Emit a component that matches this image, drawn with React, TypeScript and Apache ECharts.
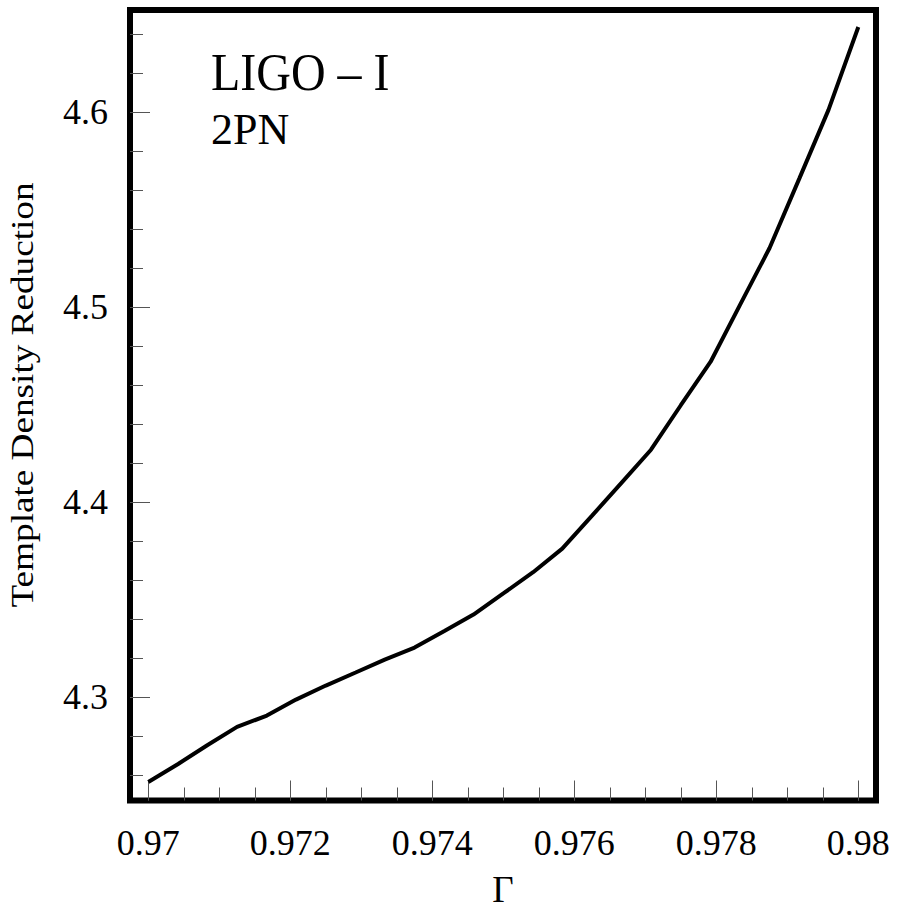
import React, { useEffect, useRef } from "react";
import * as echarts from "echarts";

// Data
const gammaValues = [
  0.97, 0.97042, 0.97083, 0.97125, 0.97167, 0.97208, 0.9725, 0.97292, 0.97333,
  0.97375, 0.97417, 0.97458, 0.975, 0.97542, 0.97583, 0.97625, 0.97667, 0.97708,
  0.9775, 0.97792, 0.97833, 0.97875, 0.97917, 0.97958, 0.98,
];
const densityReduction = [
  4.2566, 4.2658, 4.2754, 4.2848, 4.2906, 4.2988, 4.306, 4.3127, 4.3193, 4.3255,
  4.334, 4.3424, 4.3532, 4.3641, 4.3762, 4.3931, 4.4102, 4.4269, 4.4497, 4.472,
  4.5009, 4.5303, 4.566, 4.6011, 4.6436,
];

const xMajorTicks = [0.97, 0.972, 0.974, 0.976, 0.978, 0.98];
const xMinorTicks = [
  0.97, 0.9705, 0.971, 0.9715, 0.972, 0.9725, 0.973, 0.9735, 0.974, 0.9745,
  0.975, 0.9755, 0.976, 0.9765, 0.977, 0.9775, 0.978, 0.9785, 0.979, 0.9795, 0.98,
];
const yMajorTicks = [4.3, 4.4, 4.5, 4.6];
const yMinorTicks = [
  4.26, 4.28, 4.3, 4.32, 4.34, 4.36, 4.38, 4.4, 4.42, 4.44, 4.46, 4.48, 4.5,
  4.52, 4.54, 4.56, 4.58, 4.6, 4.62, 4.64,
];

const xMin = 0.969742;
const xMax = 0.980249;
const yMin = 4.24708;
const yMax = 4.65231;

const FONT = '"Liberation Serif", "Times New Roman", serif';

export default function App() {
  const ref = useRef<HTMLDivElement>(null);

  useEffect(() => {
    document.body.style.margin = "0";
    if (!ref.current) return;
    const chart = echarts.init(ref.current, undefined, { renderer: "svg" });

    const tickStyle = { color: "#555", width: 1 };

    const option: any = {
      animation: false,
      backgroundColor: "#fff",
      grid: {
        left: 130,
        right: 21,
        top: 10,
        bottom: 112,
        show: true,
        borderColor: "#000",
        borderWidth: 6,
        backgroundColor: "transparent",
      },
      xAxis: [
        {
          type: "value",
          min: xMin,
          max: xMax,
          position: "bottom",
          axisLine: { show: false },
          splitLine: { show: false },
          axisTick: {
            show: true,
            inside: true,
            length: 20,
            lineStyle: tickStyle,
            customValues: xMajorTicks,
          },
          axisLabel: {
            show: true,
            customValues: xMajorTicks,
            margin: 24,
            color: "#000",
            fontFamily: FONT,
            fontSize: 36,
            formatter: (v: number) => String(parseFloat(v.toFixed(4))),
          },
          name: "Γ",
          nameLocation: "middle",
          nameGap: 89,
          nameTextStyle: {
            color: "#000",
            fontFamily: FONT,
            fontSize: 37,
            verticalAlign: "middle",
          },
        },
        {
          type: "value",
          min: xMin,
          max: xMax,
          position: "bottom",
          axisLine: { show: false },
          splitLine: { show: false },
          axisLabel: { show: false },
          axisTick: {
            show: true,
            inside: true,
            length: 13,
            lineStyle: tickStyle,
            customValues: xMinorTicks,
          },
        },
      ],
      yAxis: [
        {
          type: "value",
          min: yMin,
          max: yMax,
          position: "left",
          axisLine: { show: false },
          splitLine: { show: false },
          axisTick: {
            show: true,
            inside: true,
            length: 20,
            lineStyle: tickStyle,
            customValues: yMajorTicks,
          },
          axisLabel: {
            show: true,
            customValues: yMajorTicks,
            margin: 22,
            color: "#000",
            fontFamily: FONT,
            fontSize: 36,
            formatter: (v: number) => v.toFixed(1),
          },
        },
        {
          type: "value",
          min: yMin,
          max: yMax,
          position: "left",
          axisLine: { show: false },
          splitLine: { show: false },
          axisLabel: { show: false },
          axisTick: {
            show: true,
            inside: true,
            length: 13,
            lineStyle: tickStyle,
            customValues: yMinorTicks,
          },
        },
      ],
      series: [
        {
          type: "line",
          xAxisIndex: 0,
          yAxisIndex: 0,
          data: gammaValues.map((g, i) => [g, densityReduction[i]]),
          showSymbol: false,
          symbol: "none",
          lineStyle: { color: "#000", width: 4 },
          clip: true,
        },
      ],
      graphic: [
        {
          type: "text",
          x: 22.5,
          y: 395,
          rotation: Math.PI / 2,
          scaleX: 1.2,
          style: {
            text: "Template Density Reduction",
            fill: "#000",
            font: `31px ${FONT}`,
            align: "center",
            verticalAlign: "middle",
            textAlign: "center",
            textVerticalAlign: "middle",
          },
        },
        {
          type: "text",
          x: 211,
          y: 72.5,
          scaleY: 1.08,
          style: {
            text: "LIGO – I",
            fill: "#000",
            font: `48px ${FONT}`,
            align: "left",
            verticalAlign: "middle",
            textAlign: "left",
            textVerticalAlign: "middle",
          },
        },
        {
          type: "text",
          x: 211,
          y: 129,
          style: {
            text: "2PN",
            fill: "#000",
            font: `44px ${FONT}`,
            align: "left",
            verticalAlign: "middle",
            textAlign: "left",
            textVerticalAlign: "middle",
          },
        },
      ],
    };

    chart.setOption(option);
    return () => chart.dispose();
  }, []);

  return <div ref={ref} style={{ width: 897, height: 913 }} />;
}
